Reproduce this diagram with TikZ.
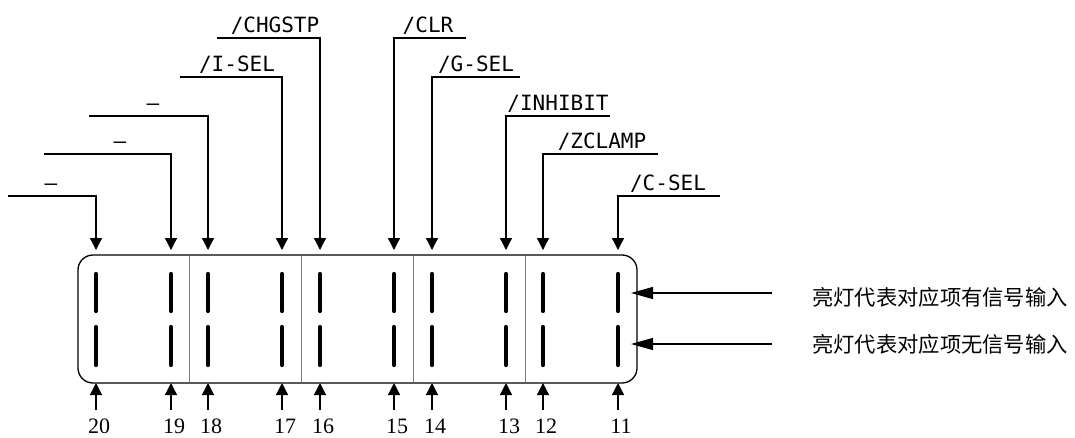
\documentclass[tikz,border=0pt]{standalone}
\usepackage{fontspec}
\setmainfont{Liberation Serif}
\newfontfamily\labfont{DejaVu Sans Mono}
\newfontfamily\cjk{Noto Sans CJK SC}
\usetikzlibrary{arrows.meta}
\begin{document}
\begin{tikzpicture}[x=1pt,y=-1pt,
  wire/.style={line width=1.3pt},
  downarrow/.style={wire,-{Triangle[length=12pt,width=12pt]}},
  uparrow/.style={wire,-{Triangle[length=12pt,width=12pt]}},
  sidearrow/.style={wire,-{Triangle[length=22pt,width=12pt]}},
  led/.style={line width=4.2pt,line cap=round},
  panel/.style={line width=1.3pt,rounded corners=15pt},
  divider/.style={line width=1pt,gray},
  siglabel/.style={font=\labfont\fontsize{21}{22}\selectfont,anchor=base,inner sep=0pt},
  pinlabel/.style={font=\fontsize{22}{24}\selectfont,anchor=base,inner sep=0pt},
  cjklabel/.style={font=\cjk\fontsize{21.3}{23}\selectfont,anchor=west,inner sep=0pt}]
\useasboundingbox (0,0) rectangle (1075,437);
% panel
\draw[panel] (78,255) rectangle (637,383);
\foreach \x in {189,301,413,525}
  \draw[divider] (\x,255.7) -- (\x,382.3);
% pins: number / x / line y / line start x / label x / label
\foreach \n/\x/\ly/\sx/\lx/\t in {
  20/96/196/8/51/{\textendash},
  19/171/154/44/120/{\textendash},
  18/208/116/89/153/{\textendash},
  17/282/77/180/237/{/I-SEL},
  16/320/38/217/275/{/CHGSTP},
  15/394/38/466/428/{/CLR},
  14/432/77/520/476/{/G-SEL},
  13/506/116/610/558/{/INHIBIT},
  12/543/154/658/602/{/ZCLAMP},
  11/618/196/720/668/{/C-SEL}}{
  \coordinate (t\n) at (\x,250);
  \coordinate (b\n) at (\x,383);
  \coordinate (s\n) at (\sx,\ly);
  \coordinate (e\n) at (\x,410);
  \draw[led] (\x,274) -- (\x,311);
  \draw[led] (\x,327) -- (\x,365);
  \draw[downarrow] (s\n) -| (t\n);
  \node[siglabel] (sig\n) at (\lx,\ly-6) {\t};
  \draw[uparrow] (e\n) -- (b\n);
  \node[pinlabel] (num\n) at (\x+3,433) {\n};
}
% right side legend
\coordinate (ra) at (631,293);
\coordinate (rb) at (631,344);
\coordinate (sa) at (772,293);
\coordinate (sb) at (772,344);
\node[cjklabel] (la) at (812,297) {亮灯代表对应项有信号输入};
\node[cjklabel] (lb) at (812,344) {亮灯代表对应项无信号输入};
\draw[sidearrow] (sa) -- (ra);
\draw[sidearrow] (sb) -- (rb);
\end{tikzpicture}
\end{document}
